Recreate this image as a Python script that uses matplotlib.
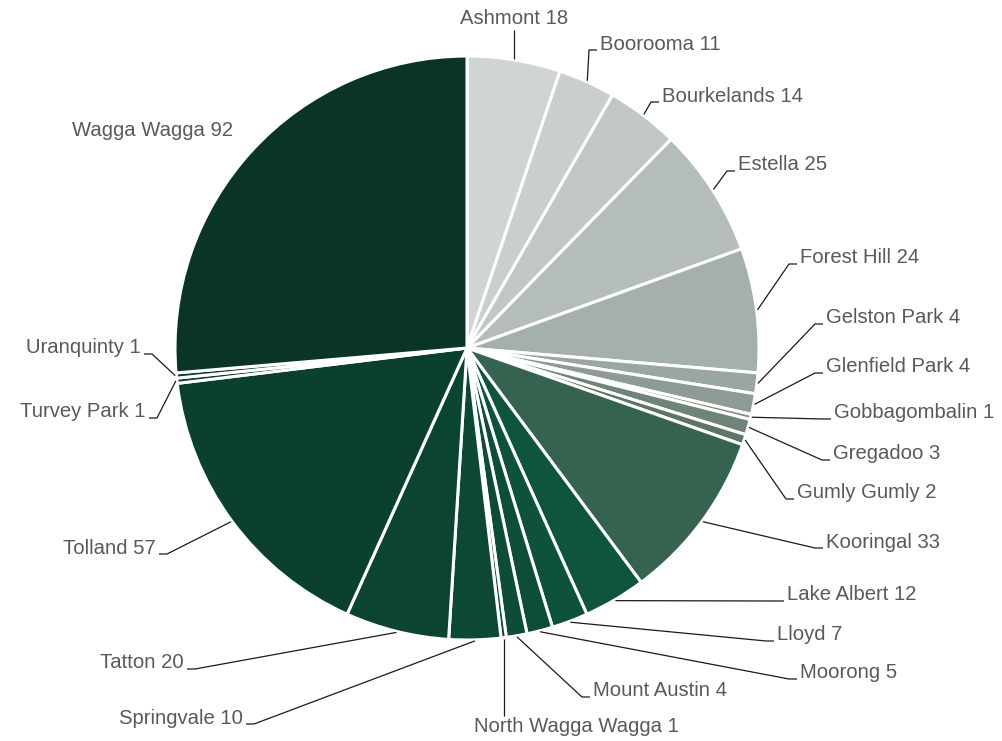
import numpy as np
import matplotlib
matplotlib.use("Agg")
import matplotlib.pyplot as plt

# Residents by locality
suburbs = [
    "Ashmont", "Boorooma", "Bourkelands", "Estella", "Forest Hill",
    "Gelston Park", "Glenfield Park", "Gobbagombalin", "Gregadoo",
    "Gumly Gumly", "Kooringal", "Lake Albert", "Lloyd", "Moorong",
    "Mount Austin", "North Wagga Wagga", "Springvale", "Tatton", "Tolland",
    "Turvey Park", "Uranquinty", "Wagga Wagga",
]
counts = [18, 11, 14, 25, 24, 4, 4, 1, 3, 2, 33, 12, 7, 5, 4, 1, 10, 20, 57,
          1, 1, 92]

colours = [
    "#d0d5d3", "#c8cfcc", "#c0c7c4", "#b4bdb9", "#a6b0ab",
    "#9aa69f", "#8e9b94", "#839389", "#6f8478", "#5b7566",
    "#356350", "#0f553e", "#0f523b", "#0e4e38", "#0e4c36",
    "#0d4a35", "#0d4834", "#0c4432", "#0b4030", "#0b3d2d",
    "#0b3b2c", "#0a3426",
]

W, H = 1003, 741
CX, CY, R = 467, 348, 292
TEXT_COLOUR = "#595959"

# label placement in pixel coords: (x, y, horizontal alignment)
label_pos = {
    "Ashmont": (514, 18, "center"),
    "Boorooma": (600, 44, "left"),
    "Bourkelands": (662, 96, "left"),
    "Estella": (738, 165, "left"),
    "Forest Hill": (800, 258, "left"),
    "Gelston Park": (826, 318, "left"),
    "Glenfield Park": (826, 367, "left"),
    "Gobbagombalin": (834, 413, "left"),
    "Gregadoo": (833, 454, "left"),
    "Gumly Gumly": (797, 493, "left"),
    "Kooringal": (826, 542, "left"),
    "Lake Albert": (787, 595, "left"),
    "Lloyd": (777, 635, "left"),
    "Moorong": (800, 673, "left"),
    "Mount Austin": (593, 691, "left"),
    "North Wagga Wagga": (576, 727, "center"),
    "Springvale": (243, 718, "right"),
    "Tatton": (184, 663, "right"),
    "Tolland": (156, 548, "right"),
    "Turvey Park": (146, 412, "right"),
    "Uranquinty": (141, 348, "right"),
    "Wagga Wagga": (233, 131, "right"),
}
# leader lines that run straight down/up to the label instead of an elbow
straight = {"Ashmont": 30, "North Wagga Wagga": 716}


def to_data(x, y):
    return x, H - y


fig = plt.figure(figsize=(W / 100, H / 100), dpi=100)
ax = fig.add_axes([0, 0, 1, 1])

wedges, _ = ax.pie(
    counts, colors=colours, startangle=90, counterclock=False,
    center=to_data(CX, CY), radius=R,
    wedgeprops=dict(edgecolor="white", linewidth=2.2),
)
# pie() resets the limits, so set the pixel frame afterwards
ax.set_xlim(0, W)
ax.set_ylim(0, H)
ax.set_aspect("equal")
ax.axis("off")

for wedge, name, n in zip(wedges, suburbs, counts):
    tx, ty, ha = label_pos[name]
    ax.text(*to_data(tx, ty), f"{name} {n}", ha=ha, va="center",
            fontsize=14.6, color=TEXT_COLOUR, family="Liberation Sans")
    if name == "Wagga Wagga":
        continue

    mid = np.deg2rad((wedge.theta1 + wedge.theta2) / 2)
    sx = CX + (R + 1) * np.cos(mid)
    sy = CY - (R + 1) * np.sin(mid)

    if name in straight:
        xs, ys = [sx, sx], [sy, straight[name]]
    else:
        side = -1 if ha == "left" else 1
        ey = ty + 6
        hx0 = tx + side * 3
        hx1 = tx + side * 11
        xs, ys = [sx, hx1, hx0], [sy, ey, ey]
    ax.plot(xs, [H - y for y in ys], color="#1a1a1a", lw=0.9,
            solid_capstyle="butt")

fig.savefig("out.png", dpi=100, facecolor="white")
